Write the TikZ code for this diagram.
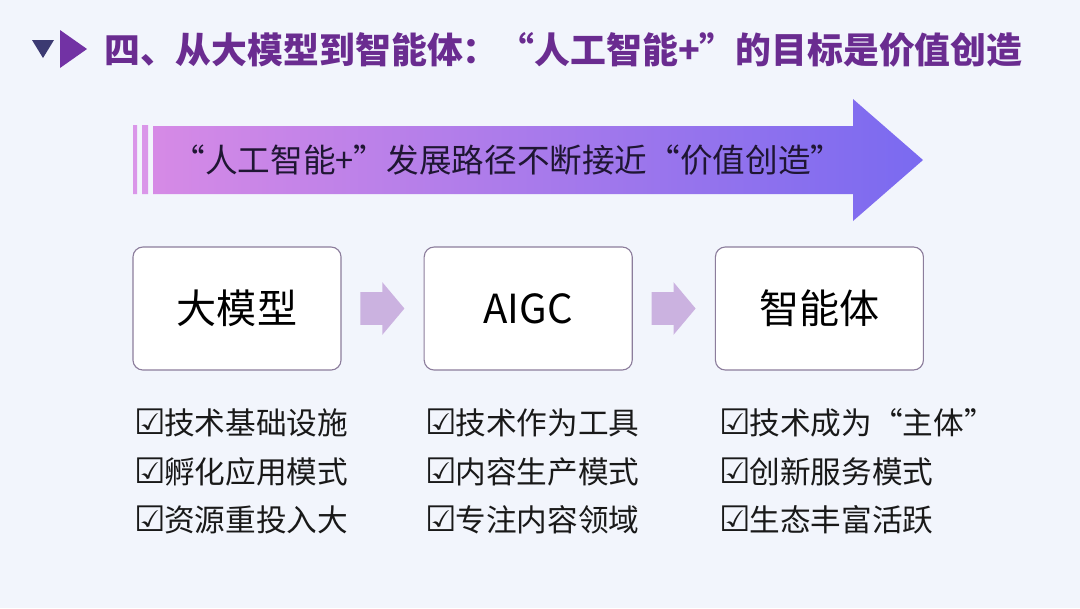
\documentclass[tikz,border=0pt]{standalone}
\usepackage{fontspec}
\setmainfont{Noto Sans CJK SC}
\newfontfamily\symfont{DejaVu Sans}
\usetikzlibrary{shapes.arrows, positioning, calc}
\definecolor{pagebg}{HTML}{F2F5FC}
\definecolor{titlepurple}{HTML}{6A2C90}
\definecolor{navy}{HTML}{3C3A72}
\definecolor{iconpurple}{HTML}{7232A4}
\definecolor{boxline}{HTML}{8C7D9C}
\definecolor{flowfill}{HTML}{CBB2E0}
\definecolor{bandleft}{HTML}{D68AE6}
\definecolor{bandright}{HTML}{7A6AF0}
\definecolor{bandtext}{HTML}{1F1633}
\newcommand{\ok}{{\symfont\fontsize{25}{25}\selectfont ☑\kern-1pt}}

\begin{document}
\begin{tikzpicture}[
    x=0.025cm, y=-0.025cm,
    node distance=2.05cm,
    stage/.style={
        rectangle,
        draw=boxline,
        line width=0.8pt,
        fill=white,
        rounded corners=0.25cm,
        minimum width=5.2cm,
        minimum height=3.075cm,
        font=\fontsize{28.5}{32}\selectfont
    },
    flow/.style={single arrow, fill=flowfill, draw=none, minimum height=1.1cm,
        minimum width=1.3cm, single arrow head extend=0.25cm,
        single arrow tip angle=100, inner xsep=0pt, inner ysep=0.4cm},
    checklist/.style={align=left, inner sep=0pt, text=black!90,
        font=\fontsize{21.8}{34.5}\selectfont}
]
\useasboundingbox (0,0) rectangle (1080,608);
\fill[pagebg] (0,0) rectangle (1080,608);

% title
\fill[navy] (32,40) -- (54,40) -- (43,58) -- cycle;
\fill[iconpurple] (60,30) -- (87,49) -- (60,68) -- cycle;
\node (title) [anchor=west, inner sep=0pt, text=titlepurple,
    font=\bfseries\fontsize{25.5}{30}\selectfont] at (104,50)
    {四、从大模型到智能体：“人工智能+”的目标是价值创造};

% big arrow
\fill[bandleft!90!white] (133,125) rectangle (137,194) (142,125) rectangle (148,194);
\shade[left color=bandleft, right color=bandright]
    (153,126) -- (853,126) -- (853,99) -- (923,160) -- (853,221) -- (853,194) -- (153,194) -- cycle;
\node (path) [text=bandtext, font=\fontsize{23.2}{28}\selectfont] at (508,160)
    {“人工智能+”发展路径不断接近“价值创造”};

\node (B1) [stage] at (237,308.5) {大模型};
\node (B2) [stage, right=of B1] {AIGC};
\node (B3) [stage, right=of B2] {智能体};

\node (F1) [flow, xshift=-5pt] at ($(B1.east)!0.5!(B2.west)$) {};
\node (F2) [flow, xshift=-5pt] at ($(B2.east)!0.5!(B3.west)$) {};

\node (L1) [checklist, below=0.95cm of B1.south west, anchor=north west, xshift=1pt]
    {\ok{}技术基础设施\\\ok{}孵化应用模式\\\ok{}资源重投入大};
\node (L2) [checklist, below=0.95cm of B2.south west, anchor=north west, xshift=1pt]
    {\ok{}技术作为工具\\\ok{}内容生产模式\\\ok{}专注内容领域};
\node (L3) [checklist, below=0.95cm of B3.south west, anchor=north west, xshift=3pt]
    {\ok{}技术成为“主体”\\\ok{}创新服务模式\\\ok{}生态丰富活跃};

\end{tikzpicture}
\end{document}
